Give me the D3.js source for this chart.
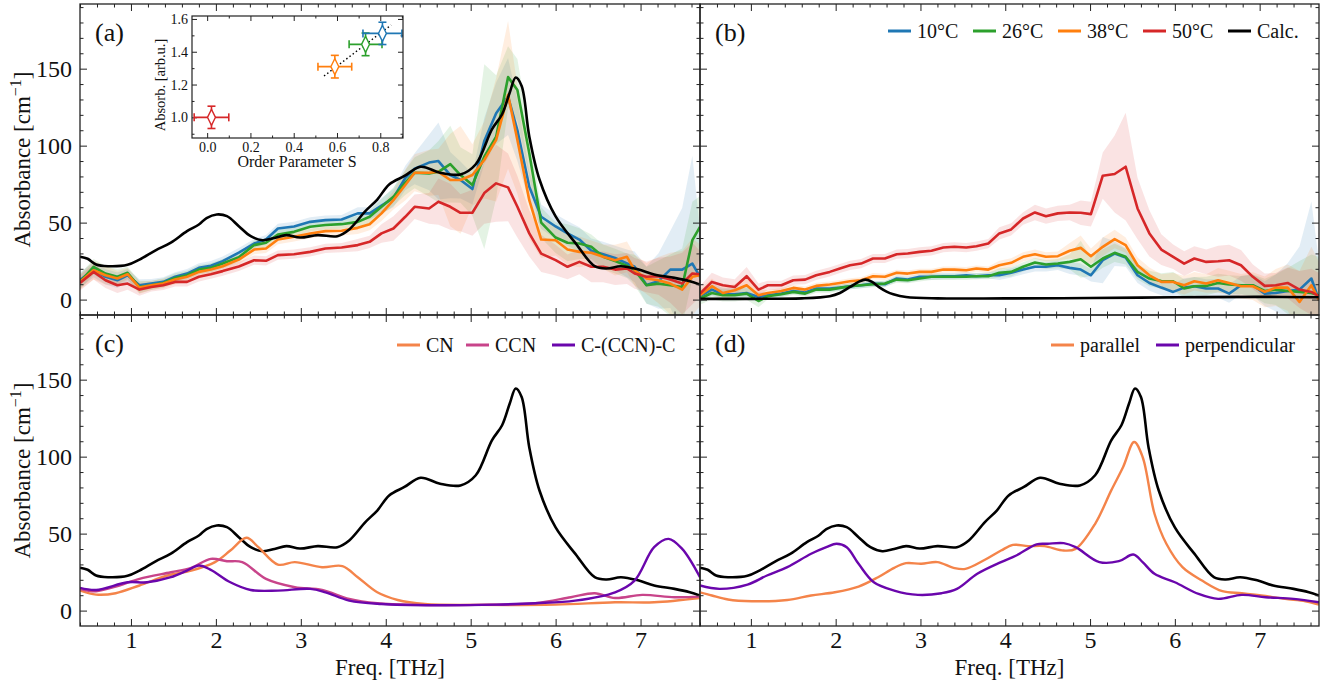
<!DOCTYPE html>
<html>
<head>
<meta charset="utf-8">
<script src="https://cdn.jsdelivr.net/npm/d3@7"></script>
<style>
  body { margin: 0; background: #fff; }
  svg { display: block; font-family: "Liberation Serif", "DejaVu Serif", serif; }
</style>
</head>
<body>
<svg id="chart" width="1331" height="688"></svg>
<script>
// ---- calculated spectrum (panels a, c, d) ----
const calcFreq = [0.40,0.49,0.59,0.73,0.96,1.10,1.29,1.47,1.66,1.80,1.89,2.01,2.13,2.27,2.41,2.55,2.69,2.83,2.99,3.20,3.43,3.57,3.76,3.90,4.04,4.22,4.41,4.64,4.88,5.06,5.25,5.37,5.46,5.53,5.60,5.69,5.81,6.00,6.23,6.46,6.60,6.77,6.98,7.16,7.40,7.58,7.70];
const calcAbs  = [27.8,26.5,22.8,21.7,22.6,26,32,37,44.5,48.8,53,55.3,54.2,47.7,41.2,38.6,40,41.9,40.3,41.9,41.2,45.6,57.5,65,74.8,80.3,86.3,82.4,81.3,87.9,110.6,120.4,134.5,144.3,138.8,106,78,54,37,21.7,20.2,21.7,19.5,16.3,14.1,11.9,9.8];

// ---- calculated spectrum, panel b ----
const calcBFreq = [0.40,1.00,1.60,1.93,2.05,2.17,2.27,2.35,2.43,2.52,2.60,2.68,2.83,3.20,4.00,5.00,6.00,7.00,7.70];
const calcBAbs  = [0.5,0.5,0.8,2.2,4.3,8.2,11.5,13,11.5,7.8,5.2,3.5,1.7,0.8,0.8,1.0,1.5,1.8,1.5];

// ---- measured, panel a ----
const freqA = [0.40,0.56,0.70,0.84,0.96,1.10,1.24,1.38,1.52,1.66,1.80,1.94,2.08,2.27,2.45,2.59,2.73,2.92,3.11,3.29,3.48,3.67,3.81,3.95,4.09,4.23,4.34,4.51,4.62,4.76,4.88,5.02,5.16,5.30,5.44,5.55,5.69,5.83,6.00,6.14,6.28,6.42,6.56,6.70,6.84,6.93,7.07,7.21,7.35,7.49,7.61,7.70];
const a10 = [12.6,19.5,14.8,12.6,15.8,9.3,10.4,11.5,14.8,16.9,20.6,22,25,30.5,36.4,39,46.2,47.5,50.5,51.6,52,56,56,61,66,79,85,89,90,80.9,77.7,71.8,103,121,131.9,110,73.3,53.8,47.5,43,39,31.7,29.5,27,23.5,21.3,9.5,12,19.5,19.5,23.4,14.8];
const a26 = [11.5,21.3,16.9,14.8,17.4,8.2,9.3,10.8,14.1,15.8,19.5,20.6,23.4,27.5,35.4,36.9,42.3,44,47.3,48.5,49,50.5,53.8,60.3,66.8,76,82.4,82,83,88,80.9,74.4,92.8,105.8,144.5,136.2,95,50,40.3,36.9,36.4,34.3,27.8,25,22,19.1,9.3,10.4,9.3,8.2,38.6,47.3];
const a38 = [11.5,19.1,15.8,13.7,16.5,7.8,9.3,10.4,13,14.8,18,19.5,21.7,26,32.5,33.2,39,40.8,42.9,44.5,44.7,46.6,49,56,64.6,74.4,82.4,82.4,83,77.7,77.7,80.9,90.7,103.7,133,103.7,64.6,39,38.6,32.5,31,30.4,27.8,25.6,27.8,19.1,13.7,12.6,10.4,6.5,14.8,15.8];
const a50 = [10.8,18,12.6,9.3,10.4,6.5,8.2,9.3,11.5,11.5,14.8,16.5,18.5,21.5,25.6,25.2,28.9,29.5,31,33.2,33.8,35.4,37.5,43,46.2,53.8,60.3,59.2,63.6,60.3,56.4,56.4,69.2,75.5,72.9,60.3,43,29.9,25.6,21.3,24.5,21.3,21.3,19.5,20.2,17,14.8,15.2,13,10.4,17,16.5];
const e10 = [5,5,5,5,4,4,3,3,3,3,3,3,3,3,3,3,3,3,3,3,3,4,4,5,6,8,10,18,25,15,12,10,15,20,25,20,10,8,8,8,8,8,8,8,9,10,12,18,25,40,70,30];
const e26 = [5,5,5,5,4,4,3,3,3,3,3,3,3,3,3,3,3,3,3,3,3,4,4,5,6,8,10,15,20,25,18,20,60,40,20,20,15,10,10,12,10,8,8,8,8,10,12,15,20,25,25,20];
const e38 = [5,6,6,5,4,4,3,3,3,3,3,3,3,3,3,3,3,3,3,3,3,4,4,5,6,10,12,15,15,30,35,20,25,40,48,35,25,12,10,10,10,8,8,10,10,10,10,15,20,25,25,20];
const e50 = [5,5,5,5,4,4,3,3,3,3,3,3,3,3,3,3,3,3,3,3,3,4,4,6,8,8,8,10,15,15,12,15,20,25,22,20,15,12,10,8,8,10,10,10,10,10,10,12,15,20,20,15];

// ---- measured, panel b ----
const freqB = [0.40,0.54,0.67,0.81,0.95,1.09,1.20,1.36,1.50,1.64,1.77,1.93,2.05,2.17,2.30,2.44,2.58,2.72,2.85,2.99,3.13,3.27,3.40,3.54,3.66,3.80,3.93,4.07,4.21,4.35,4.48,4.62,4.76,4.89,5.01,5.15,5.29,5.42,5.56,5.70,5.84,5.98,6.11,6.23,6.37,6.51,6.64,6.78,6.92,7.06,7.19,7.33,7.47,7.61,7.70];
const b10 = [2.2,6.5,3.5,3.5,4.3,1.7,2.8,3.9,5.6,4.6,7.2,7.2,7.8,8.7,9.3,10.4,10,13.7,13,14.8,14.8,15.2,15.2,15.8,15.2,15.8,15.8,17.4,19.5,21.3,21.3,22.3,20.6,19.5,15.8,25.6,29.9,27.3,15.8,10.8,7.8,5,7.8,8.7,7.2,7.2,3.9,9.3,9.3,3.9,4.3,5.6,6.5,13.7,-0.4];
const b26 = [0.7,4.3,2.8,2.8,3.9,-0.9,2.2,3.5,5,3.9,6.5,6.5,7.6,8.7,9.3,10,10.4,13,12.6,13.7,14.8,14.8,14.8,14.8,15.2,15.2,17.4,18,21.3,24.1,22.8,23.4,24.5,26.2,21.3,26.7,30.4,27.8,18,13.7,12.1,11.9,7.2,8.7,8.9,10.8,9.8,9.3,9.3,5.6,6.5,5.6,5,4.3,2.8];
const b38 = [2.8,8.7,4.3,6.1,9.3,2.8,4.3,5.6,7.6,6.5,8.9,9.8,10.8,11.9,12.6,15.2,14.8,17.4,16.9,18,18,19.5,19.5,19.1,20.2,19.5,22.3,23.9,27.8,29.5,27.8,28.2,31.7,33.6,28.2,34.3,39.3,35.4,22.3,15.8,11.5,11.5,9.3,11.9,10.4,12.6,10.8,8.7,8.7,5,7.8,7.8,-1.5,9.3,-0.4];
const b50 = [3.9,11.5,9.3,8.2,15.2,6.5,9.3,9.3,12.6,13,15.8,18,20.2,22.3,23.4,26.7,26.7,29.5,29.9,31,31.7,33.8,34.3,33.8,34.7,36.4,43,45.6,52.7,56.6,54.2,56,56.6,56.4,55.5,80.5,81.6,86.3,59.2,43,32.5,27.8,23.4,26.7,24.5,24.9,25.6,22.3,14.8,8.9,9.3,10.8,6.5,5,2.2];
const eB10 = [4,4,4,4,4,3,2,2,2,2,2,2,2,2,2,2,2,2,2,2,2,2,2,2,2,2,3,3,3,3,3,3,4,4,4,15,8,6,5,5,5,5,6,6,6,6,6,6,7,8,12,18,28,50,25];
const eB26 = [4,4,4,4,4,4,2,2,2,2,2,2,2,2,2,2,2,2,2,2,2,2,2,2,2,2,3,3,3,3,3,3,5,12,6,6,6,5,5,5,5,6,6,6,6,6,6,6,7,8,10,15,20,25,25];
const eB38 = [4,5,4,4,5,4,2,2,2,2,2,2,2,2,2,2,2,2,2,2,2,2,2,2,2,2,3,3,3,3,3,3,5,8,5,6,6,5,5,5,5,6,6,6,6,8,8,8,9,10,12,15,20,25,25];
const eB50 = [5,6,5,5,6,4,3,3,3,3,3,3,3,3,3,3,3,3,3,3,3,3,3,3,3,3,4,4,4,5,5,5,5,8,8,15,25,35,20,15,10,8,8,8,8,10,10,10,8,8,8,10,12,15,15];

// ---- panel c: contributions ----
const cnFreq  = [0.40,0.59,0.82,1.10,1.43,1.71,1.99,2.17,2.36,2.50,2.73,2.93,3.25,3.49,3.67,3.90,4.14,4.46,5.06,6.00,6.70,7.16,7.70];
const cnAbs   = [13,10.4,11.3,16.3,22.8,26,31.5,39,47.3,41.2,29.9,31.5,28.2,28.9,21.7,11.9,6.9,4.3,3.7,3.9,5.4,5.4,8.2];
const ccnFreq = [0.40,0.59,0.82,1.10,1.47,1.71,1.94,2.13,2.31,2.59,2.93,3.25,3.57,3.90,4.37,5.06,5.76,6.18,6.46,6.70,7.02,7.40,7.70];
const ccnAbs  = [14.1,12.6,15.6,20.6,24.9,27.8,33.6,32.1,31.5,20.6,15.2,13.4,7.6,4.8,3.7,3.7,4.8,8.7,11.3,8.2,10.2,8.7,9.1];
const cccFreq = [0.40,0.59,0.96,1.19,1.47,1.66,1.80,1.94,2.17,2.41,2.73,3.11,3.29,3.57,3.95,4.60,5.30,5.76,6.23,6.70,6.93,7.16,7.33,7.49,7.70];
const cccAbs  = [14.8,13.4,18.4,18.4,21.7,26,29.3,26.5,18.4,13.4,13,14.1,11.9,6.5,4.3,3.5,3.9,4.8,6.5,11.9,19.5,41.2,46.6,40.1,21.7];

// ---- panel d: polarisation ----
const parFreq  = [0.40,0.54,0.73,1.01,1.43,1.71,1.99,2.27,2.50,2.69,2.83,3.01,3.20,3.39,3.53,3.76,3.95,4.09,4.27,4.46,4.69,4.83,5.06,5.25,5.39,5.52,5.62,5.76,5.90,6.09,6.32,6.56,6.79,7.02,7.30,7.54,7.70];
const parAbs   = [11.9,9.8,7.2,6.1,6.9,9.8,11.9,15.6,21.7,27.8,30.8,30.4,31.5,27.8,27.1,33,39,42.7,41.9,41.9,39,40.1,56.4,78.1,93.3,109.5,99.8,62.9,43.4,28.2,19.5,12.6,11.3,9.8,7.6,6.1,3.9];
const perpFreq = [0.40,0.63,0.96,1.19,1.43,1.71,1.89,2.01,2.13,2.27,2.45,2.69,2.97,3.25,3.43,3.67,3.95,4.13,4.37,4.50,4.69,4.83,5.11,5.34,5.51,5.62,5.76,6.00,6.28,6.51,6.79,7.07,7.40,7.70];
const perpAbs  = [16.3,14.1,16.9,22.8,28.2,36.9,41.2,43.4,41.2,30.4,18.4,13,10.2,11.3,14.1,23.9,31.5,35.8,43,43.4,43.8,41.2,31.5,32.1,36.4,31.5,23.9,18.4,10.8,7.6,10.2,8.7,7.6,5.4];

// ---- inset ----
const insetS    = [0.02, 0.59, 0.732, 0.81];
const insetSErr = [0.08, 0.078, 0.076, 0.09];
const insetA    = [1.0, 1.309, 1.445, 1.512];
const insetAErr = [0.068, 0.069, 0.069, 0.068];
const insetColor = ["#d62728", "#ff7f0e", "#2ca02c", "#1f77b4"];
const fitS = [0.54, 0.85];
const fitA = [1.252, 1.563];

const tempLabels = ["10°C", "26°C", "38°C", "50°C"];
const tempColors = ["#1f77b4", "#2ca02c", "#ff7f0e", "#d62728"];
const orange = "#f4844a", magenta = "#c8448a", purple = "#6a06ac";

const svg = d3.select("#chart");
const padL = 80, padM = 700, padR = 1319, padT = 4, ph = 311;
const yDomain = [-10, 192];
const xDomain = [0.4, 7.7];
const serif = "Liberation Serif, DejaVu Serif, serif";

const xMajor = d3.range(1, 8);
const xMinor = d3.range(0.4, 7.75, 0.2).map(v => +v.toFixed(2)).filter(v => !xMajor.includes(v));
const yMajor = [0, 50, 100, 150];
const yMinor = d3.range(10, 191, 10).filter(v => !yMajor.includes(v));

const defs = svg.append("defs");

function makePanel(id, x0, x1, y0, showX, showY) {
  const x = d3.scaleLinear().domain(xDomain).range([x0, x1]);
  const y = d3.scaleLinear().domain(yDomain).range([y0 + ph, y0]);
  defs.append("clipPath").attr("id", "clip-" + id)
    .append("rect").attr("x", x0).attr("y", y0).attr("width", x1 - x0).attr("height", ph);
  const g = svg.append("g").attr("font-family", serif);
  const plot = g.append("g").attr("clip-path", `url(#clip-${id})`);
  return {id, x, y, x0, x1, y0, y1: y0 + ph, g, plot, showX, showY};
}

function drawAxes(p) {
  const g = p.g.append("g");
  const strip = a => a.call(s => s.select(".domain").remove()).attr("font-family", serif);
  g.append("g").attr("transform", `translate(0,${p.y1})`)
    .call(d3.axisBottom(p.x).tickValues(xMajor).tickSize(-7).tickPadding(5)
      .tickFormat(p.showX ? d3.format("d") : () => "")).call(strip);
  g.append("g").attr("transform", `translate(0,${p.y1})`)
    .call(d3.axisBottom(p.x).tickValues(xMinor).tickSize(-3.5).tickFormat(() => "")).call(strip);
  g.append("g").attr("transform", `translate(0,${p.y0})`)
    .call(d3.axisTop(p.x).tickValues(xMajor).tickSize(-7).tickFormat(() => "")).call(strip);
  g.append("g").attr("transform", `translate(0,${p.y0})`)
    .call(d3.axisTop(p.x).tickValues(xMinor).tickSize(-3.5).tickFormat(() => "")).call(strip);
  g.append("g").attr("transform", `translate(${p.x0},0)`)
    .call(d3.axisLeft(p.y).tickValues(yMajor).tickSize(-7).tickPadding(8)
      .tickFormat(p.showY ? d3.format("d") : () => "")).call(strip);
  g.append("g").attr("transform", `translate(${p.x0},0)`)
    .call(d3.axisLeft(p.y).tickValues(yMinor).tickSize(-3.5).tickFormat(() => "")).call(strip);
  g.append("g").attr("transform", `translate(${p.x1},0)`)
    .call(d3.axisRight(p.y).tickValues(yMajor).tickSize(-7).tickFormat(() => "")).call(strip);
  g.append("g").attr("transform", `translate(${p.x1},0)`)
    .call(d3.axisRight(p.y).tickValues(yMinor).tickSize(-3.5).tickFormat(() => "")).call(strip);

  g.selectAll(".tick line").attr("stroke", "#222").attr("stroke-width", 1);
  g.selectAll(".tick text").attr("font-size", 24).attr("fill", "#111").attr("font-family", serif);

  p.g.append("rect").attr("x", p.x0).attr("y", p.y0)
    .attr("width", p.x1 - p.x0).attr("height", ph)
    .attr("fill", "none").attr("stroke", "#222").attr("stroke-width", 1.3);

  p.g.append("text").attr("x", p.x0 + 15).attr("y", p.y0 + 37).attr("font-family", serif)
    .attr("font-size", 26).attr("fill", "#111").text(`(${p.id})`);
}

function smoothLine(p, fx, fy, color, width) {
  const line = d3.line().x(d => p.x(d[0])).y(d => p.y(d[1])).curve(d3.curveCatmullRom.alpha(0.5));
  p.plot.append("path").datum(d3.zip(fx, fy))
    .attr("fill", "none").attr("stroke", color).attr("stroke-width", width)
    .attr("stroke-linejoin", "round").attr("d", line);
}

function measured(p, freq, series, errs) {
  const area = d3.area().x(d => p.x(d[0])).y0(d => p.y(d[1] - d[2])).y1(d => p.y(d[1] + d[2]));
  const line = d3.line().x(d => p.x(d[0])).y(d => p.y(d[1]));
  series.forEach((vals, i) => {
    p.plot.append("path").datum(d3.zip(freq, vals, errs[i]))
      .attr("fill", tempColors[i]).attr("fill-opacity", 0.13).attr("d", area);
  });
  series.forEach((vals, i) => {
    p.plot.append("path").datum(d3.zip(freq, vals))
      .attr("fill", "none").attr("stroke", tempColors[i]).attr("stroke-width", 2.6)
      .attr("stroke-linejoin", "round").attr("d", line);
  });
}

function legend(p, items, xStart, spacing, yc) {
  const lg = p.g.append("g").attr("font-size", 20).attr("fill", "#111").attr("font-family", serif);
  let xpos = xStart;
  items.forEach((it, i) => {
    const gx = xpos;
    lg.append("line").attr("x1", gx).attr("x2", gx + 23).attr("y1", yc).attr("y2", yc)
      .attr("stroke", it.color).attr("stroke-width", 3);
    lg.append("text").attr("x", gx + 29).attr("y", yc + 7).text(it.label);
    xpos += spacing[i];
  });
}

const pa = makePanel("a", padL, padM, padT, false, true);
const pb = makePanel("b", padM, padR, padT, false, false);
const pc = makePanel("c", padL, padM, padT + ph, true, true);
const pd = makePanel("d", padM, padR, padT + ph, true, false);

measured(pa, freqA, [a10, a26, a38, a50], [e10, e26, e38, e50]);
smoothLine(pa, calcFreq, calcAbs, "#000", 2.6);

measured(pb, freqB, [b10, b26, b38, b50], [eB10, eB26, eB38, eB50]);
smoothLine(pb, calcBFreq, calcBAbs, "#000", 2.6);

smoothLine(pc, calcFreq, calcAbs, "#000", 2.6);
smoothLine(pc, cnFreq, cnAbs, orange, 2.4);
smoothLine(pc, ccnFreq, ccnAbs, magenta, 2.4);
smoothLine(pc, cccFreq, cccAbs, purple, 2.4);

smoothLine(pd, calcFreq, calcAbs, "#000", 2.6);
smoothLine(pd, parFreq, parAbs, orange, 2.4);
smoothLine(pd, perpFreq, perpAbs, purple, 2.4);

[pa, pb, pc, pd].forEach(drawAxes);

legend(pb, tempLabels.map((l, i) => ({label: l, color: tempColors[i]}))
  .concat([{label: "Calc.", color: "#000"}]), 888, [85, 85, 85, 85, 0], 31);
legend(pc, [{label: "CN", color: orange}, {label: "CCN", color: magenta}, {label: "C-(CCN)-C", color: purple}],
  397, [69, 86, 0], 345);
legend(pd, [{label: "parallel", color: orange}, {label: "perpendicular", color: purple}],
  1051, [105, 0], 345);

[pa, pc].forEach(p => {
  const cy = p.y0 + ph / 2;
  const t = svg.append("text").attr("transform", `translate(30,${cy}) rotate(-90)`)
    .attr("text-anchor", "middle").attr("font-size", 23).attr("fill", "#111").attr("font-family", serif);
  t.append("tspan").text("Absorbance [cm");
  t.append("tspan").attr("dy", -9).attr("font-size", 16).text("\u22121");
  t.append("tspan").attr("dy", 9).text("]");
});
[pc, pd].forEach(p => {
  svg.append("text").attr("x", (p.x0 + p.x1) / 2).attr("y", 675).attr("font-family", serif)
    .attr("text-anchor", "middle").attr("font-size", 23).attr("fill", "#111").text("Freq. [THz]");
});

// inset in panel a
(function inset() {
  const ix0 = 192, ix1 = 403, iy0 = 16, iy1 = 138;
  const sx = d3.scaleLinear().domain([-0.07, 0.905]).range([ix0, ix1]);
  const sy = d3.scaleLinear().domain([0.874, 1.618]).range([iy1, iy0]);
  const g = svg.append("g").attr("font-family", serif);
  g.append("rect").attr("x", ix0).attr("y", iy0).attr("width", ix1 - ix0).attr("height", iy1 - iy0)
    .attr("fill", "#fff");
  const strip = a => a.call(s => s.select(".domain").remove());
  const xM = [0, 0.2, 0.4, 0.6, 0.8], xm = [0.1, 0.3, 0.5, 0.7, 0.9];
  const yM = [1.0, 1.2, 1.4, 1.6], ym = [0.9, 1.1, 1.3, 1.5];
  const ax = g.append("g");
  ax.append("g").attr("transform", `translate(0,${iy1})`)
    .call(d3.axisBottom(sx).tickValues(xM).tickSize(-5).tickPadding(4).tickFormat(d3.format(".1f"))).call(strip);
  ax.append("g").attr("transform", `translate(0,${iy1})`)
    .call(d3.axisBottom(sx).tickValues(xm).tickSize(-2.5).tickFormat(() => "")).call(strip);
  ax.append("g").attr("transform", `translate(0,${iy0})`)
    .call(d3.axisTop(sx).tickValues(xM).tickSize(-5).tickFormat(() => "")).call(strip);
  ax.append("g").attr("transform", `translate(0,${iy0})`)
    .call(d3.axisTop(sx).tickValues(xm).tickSize(-2.5).tickFormat(() => "")).call(strip);
  ax.append("g").attr("transform", `translate(${ix0},0)`)
    .call(d3.axisLeft(sy).tickValues(yM).tickSize(-5).tickPadding(4).tickFormat(d3.format(".1f"))).call(strip);
  ax.append("g").attr("transform", `translate(${ix0},0)`)
    .call(d3.axisLeft(sy).tickValues(ym).tickSize(-2.5).tickFormat(() => "")).call(strip);
  ax.append("g").attr("transform", `translate(${ix1},0)`)
    .call(d3.axisRight(sy).tickValues(yM).tickSize(-5).tickFormat(() => "")).call(strip);
  ax.append("g").attr("transform", `translate(${ix1},0)`)
    .call(d3.axisRight(sy).tickValues(ym).tickSize(-2.5).tickFormat(() => "")).call(strip);
  ax.selectAll(".tick line").attr("stroke", "#222");
  ax.selectAll(".tick text").attr("font-size", 14).attr("fill", "#111").attr("font-family", serif);

  g.append("path").datum(d3.zip(fitS, fitA))
    .attr("d", d3.line().x(d => sx(d[0])).y(d => sy(d[1])))
    .attr("stroke", "#000").attr("stroke-width", 1.4).attr("stroke-dasharray", "1.5,2.5").attr("fill", "none");

  insetS.forEach((s, i) => {
    const c = insetColor[i], cx = sx(s), cy = sy(insetA[i]);
    const xl = sx(s - insetSErr[i]), xr = sx(s + insetSErr[i]);
    const yt = sy(insetA[i] + insetAErr[i]), yb = sy(insetA[i] - insetAErr[i]);
    const eg = g.append("g").attr("stroke", c).attr("stroke-width", 1.6).attr("fill", "none");
    eg.append("line").attr("x1", xl).attr("x2", xr).attr("y1", cy).attr("y2", cy);
    eg.append("line").attr("x1", cx).attr("x2", cx).attr("y1", yt).attr("y2", yb);
    eg.append("line").attr("x1", xl).attr("x2", xl).attr("y1", cy - 4).attr("y2", cy + 4);
    eg.append("line").attr("x1", xr).attr("x2", xr).attr("y1", cy - 4).attr("y2", cy + 4);
    eg.append("line").attr("x1", cx - 4).attr("x2", cx + 4).attr("y1", yt).attr("y2", yt);
    eg.append("line").attr("x1", cx - 4).attr("x2", cx + 4).attr("y1", yb).attr("y2", yb);
    g.append("path").attr("d", d3.symbol(d3.symbolDiamond, 75)())
      .attr("transform", `translate(${cx},${cy}) scale(0.85,1)`)
      .attr("fill", "#fff").attr("stroke", c).attr("stroke-width", 1.6);
  });

  g.append("rect").attr("x", ix0).attr("y", iy0).attr("width", ix1 - ix0).attr("height", iy1 - iy0)
    .attr("fill", "none").attr("stroke", "#222").attr("stroke-width", 1.2);

  g.append("text").attr("x", 297).attr("y", iy1 + 29)
    .attr("text-anchor", "middle").attr("font-size", 16).attr("fill", "#111").text("Order Parameter S");
  g.append("text").attr("transform", `translate(${ix0 - 27},${(iy0 + iy1) / 2 + 8}) rotate(-90)`)
    .attr("text-anchor", "middle").attr("font-size", 14.5).attr("fill", "#111").text("Absorb. [arb.u.]");
})();
</script>
</body>
</html>
